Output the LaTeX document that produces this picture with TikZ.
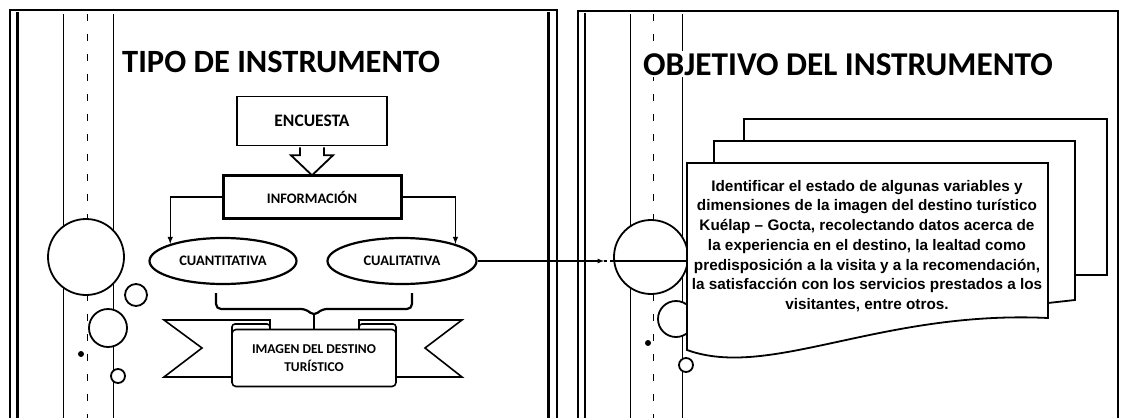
\documentclass[tikz,border=0pt]{standalone}
\usepackage{fontspec}
\setmainfont{Carlito}
\newfontfamily\arialfont{Liberation Sans}
\usetikzlibrary{shapes.geometric}

\tikzset{
  thinframe/.style={line width=1.2pt},
  heavyframe/.style={line width=3pt},
  guide/.style={line width=1pt},
  guidedash/.style={line width=1pt, dash pattern=on 7pt off 13pt},
  deco/.style={circle, draw, fill=white, line width=1.8pt, inner sep=0pt},
  dot/.style={circle, fill, inner sep=0pt, minimum size=6pt},
  box/.style={rectangle, draw, fill=white, inner sep=0pt},
  oval/.style={ellipse, draw, fill=white, line width=2.2pt, inner sep=0pt,
    minimum height=46pt, font=\fontsize{14.5}{14.5}\selectfont\bfseries},
  conn/.style={line width=1.4pt, ->, >=latex},
  title/.style={font=\fontsize{32.5}{32.5}\selectfont\bfseries, inner sep=0pt, anchor=base west},
  paper/.style={fill=white, line width=1.8pt}
}

\begin{document}
\begin{tikzpicture}[x=1pt, y=-1pt]

\fill[white] (0,0) rectangle (1122,418);
\useasboundingbox (0,0) rectangle (1122,418);

% panel frames
\draw[thinframe] (10,418) -- (10,10) -- (557,10) -- (557,418);
\draw[heavyframe] (17,12) -- (17,418);
\draw[heavyframe] (548,12) -- (548,418);
\draw[line width=2pt] (578,418) -- (578,11) -- (1118,11) -- (1118,418);
\draw[thinframe] (585,13) -- (585,418);

% guide lines
\draw[guide] (63,14) -- (63,418);
\draw[guidedash] (87,14) -- (87,418);
\draw[guide] (113,14) -- (113,418);
\draw[guide] (630,14) -- (630,418);
\draw[guidedash] (653,14) -- (653,418);
\draw[guide] (682,14) -- (682,418);

% circles
\node[deco, minimum size=76pt] (bigL) at (86,257) {};
\node[deco, minimum size=22pt] (smallL) at (136,295) {};
\node[deco, minimum size=38pt] (midL) at (108,328) {};
\node[deco, minimum size=14pt] (ringL) at (118,376) {};
\node[dot] (dotL) at (81,354) {};

\node[deco, minimum size=74pt] (bigR) at (651,257) {};
\node[deco, minimum size=36pt] (midR) at (676,319) {};
\node[deco, minimum size=14pt] (ringR) at (686,365) {};
\node[dot] (dotR) at (648,343) {};

% titles
\node[title] (tipo) at (122,72) {TIPO DE INSTRUMENTO};
\node[title, fill=white, inner sep=2pt, font=\fontsize{33.3}{33.3}\selectfont\bfseries] (objtitle) at (641,75) {OBJETIVO DEL INSTRUMENTO};

% left diagram
\node[box, line width=1.6pt, minimum width=150pt, minimum height=49pt,
  font=\fontsize{17.5}{17.5}\selectfont\bfseries] (encuesta) at (312,121) {ENCUESTA};
\filldraw[fill=white, line width=1.8pt, shift={(encuesta.south)}]
  (-12,1) -- (-12,9) -- (-21,9) -- (0,29) -- (21,9) -- (12,9) -- (12,1);
\node[box, line width=3pt, minimum width=178pt, minimum height=43pt,
  font=\fontsize{14.5}{14.5}\selectfont\bfseries] (info) at (312,197) {INFORMACIÓN};

\node[oval, minimum width=147pt] (cuanti) at (223,261) {CUANTITATIVA};
\node[oval, minimum width=149pt] (cuali) at (402,261) {CUALITATIVA};

\draw[conn] (info.west) -| (cuanti.north west);
\draw[conn] (info.east) -| (cuali.north east);

% brace
\draw[line width=2.2pt, rounded corners=5pt] (216,293) -- (216,309) -- (306,309)
  -- (314,316) -- (322,309) -- (412,309) -- (412,293);
\draw[line width=2.2pt] (314,313) -- (314,331);

% ribbon
\filldraw[paper, line width=1.6pt] (270,332) -- (270,320) -- (164,320) -- (202,348) -- (164,377) -- (232,377);
\filldraw[paper, line width=1.6pt] (359,332) -- (359,320) -- (462,320) -- (425,348) -- (462,377) -- (396,377);
\filldraw[paper, line width=1.6pt, rounded corners=3pt] (232,334) -- (232,324) -- (270,324) -- (270,334);
\filldraw[paper, line width=1.6pt, rounded corners=3pt] (359,334) -- (359,324) -- (396,324) -- (396,334);
\node[box, line width=1.6pt, rounded corners=4pt, minimum width=164pt, minimum height=57pt,
  align=center, font=\fontsize{13.5}{18}\selectfont\bfseries] (imagen) at (314,358)
  {IMAGEN DEL DESTINO\\TURÍSTICO};

% link to the objective
\coordinate (tick) at (604,261);
\coordinate (docin) at (687,261);
\draw[line width=1.2pt, -latex] (cuali.east) -- (tick);
\draw[line width=1.2pt, dashed] (tick) -- (tick -| bigR.west);
\draw[line width=1.2pt] (tick -| bigR.west) -- (docin);

% document stack
\filldraw[paper] (744,141) -- (744,119) -- (1107,119) -- (1107,275) -- (1075,275);
\filldraw[paper] (714,163) -- (714,141) -- (1075,141) -- (1075,300) -- (1048,303);
\filldraw[paper] (687,163) -- (1048,163) -- (1048,318)
  .. controls (880,310) and (770,380) .. (687,350) -- cycle;

\node[align=center, font=\arialfont\fontsize{15.3}{19.7}\selectfont\bfseries] (objetivo) at (867,246)
  {Identificar el estado de algunas variables y\\
   dimensiones de la imagen del destino turístico\\
   Kuélap – Gocta, recolectando datos acerca de\\
   la experiencia en el destino, la lealtad como\\
   predisposición a la visita y a la recomendación,\\
   la satisfacción con los servicios prestados a los\\
   visitantes, entre otros.};

\end{tikzpicture}
\end{document}
